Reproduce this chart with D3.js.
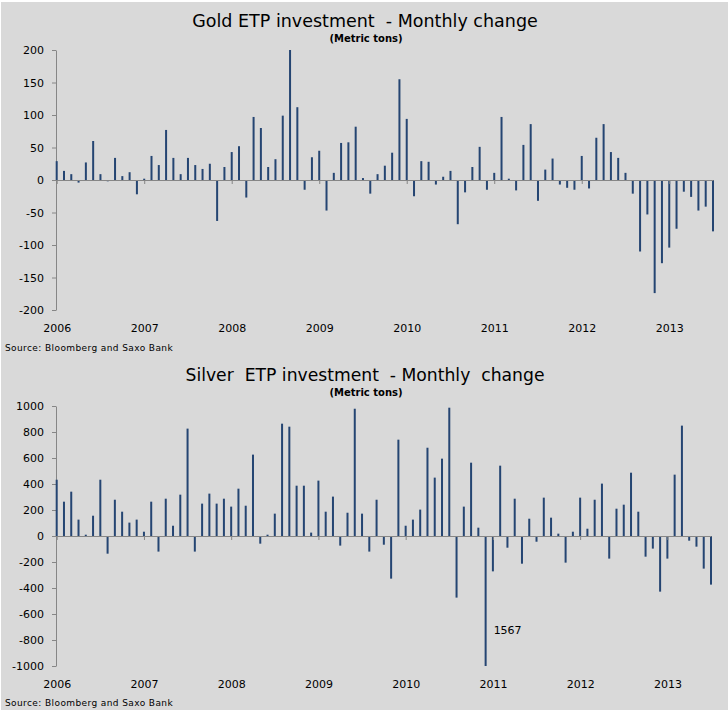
<!DOCTYPE html>
<html>
<head>
<meta charset="utf-8">
<script src="https://cdn.jsdelivr.net/npm/d3@7"></script>
<style>
  html, body { margin: 0; padding: 0; background: #ffffff; }
  svg { display: block; }
  text { font-family: "DejaVu Sans", Verdana, sans-serif; fill: #000; }
</style>
</head>
<body>
<svg id="chart" width="728" height="710"></svg>
<script>
// ---- Data (monthly, Jan 2006 .. Jul 2013) ----
const startYear = 2006;
const yearLabels = ["2006", "2007", "2008", "2009", "2010", "2011", "2012", "2013"];

const goldTitle = "Gold ETP investment  - Monthly change";
const silverTitle = "Silver  ETP investment  - Monthly  change";
const unitLabel = "(Metric tons)";
const sourceLabel = "Source: Bloomberg and Saxo Bank";

const goldValues = [
  29, 14, 9, -4, 27, 60, 9, -2, 34, 6, 12, -22,
  2, 37, 23, 77, 34, 9, 34, 23, 17, 25, -63, 20,
  43, 52, -27, 97, 80, 20, 32, 99, 200, 112, -15, 35,
  45, -47, 11, 57, 58, 82, 3, -21, 9, 22, 42, 155,
  94, -25, 29, 28, -7, 5, 14, -68, -19, 20, 51, -15,
  11, 97, 2, -16, 54, 86, -32, 16, 33, -7, -12, -15,
  37, -13, 65, 86, 43, 34, 11, -21, -110, -53, -174, -128,
  -104, -75, -18, -26, -47, -41, -79
];
const goldTicks = [-200, -150, -100, -50, 0, 50, 100, 150, 200];

const silverValues = [
  433, 264, 341, 126, 10, 156, 433, -136, 279, 187, 103, 126,
  33, 264, -120, 287, 79, 318, 826, -120, 249, 326, 249, 287,
  226, 364, 233, 626, -59, 10, 172, 864, 841, 387, 387, 26,
  426, 187, 303, -74, 179, 979, 172, -120, 279, -67, -328, 741,
  79, 126, 203, 679, 449, 595, 987, -474, 226, 564, 64, -1567,
  -272, 541, -90, 287, -213, 133, -44, 295, 141, 18, -205, 33,
  295, 56, 279, 403, -174, 210, 241, 487, 187, -159, -97, -428,
  -174, 472, 849, -36, -82, -251, -374
];
const silverTicks = [-1000, -800, -600, -400, -200, 0, 200, 400, 600, 800, 1000];
const silverNote = "1567";

// ---- Drawing ----
const svg = d3.select("#chart");
svg.append("rect").attr("x", 1).attr("y", 2).attr("width", 727).attr("height", 708).attr("fill", "#d9d9d9");

const barColor = "#254572";
const axisColor = "#868686";
const fmt = d => String(d);

function drawPanel(cfg) {
  const g = svg.append("g");
  const n = cfg.values.length;
  const x = d3.scaleLinear().domain([0, n - 1]).range([cfg.left + 0.7, cfg.right]);
  const y = d3.scaleLinear().domain(cfg.domain).range([cfg.bottom, cfg.top]);

  // Title & subtitle
  g.append("text").attr("x", 365).attr("y", cfg.titleY).attr("text-anchor", "middle")
    .style("font-size", cfg.titleSize).style("white-space", "pre").text(cfg.title);
  g.append("text").attr("x", 366).attr("y", cfg.subY).attr("text-anchor", "middle")
    .style("font-size", "10px").style("font-weight", "bold").text(unitLabel);

  // Y axis
  const yAxis = d3.axisLeft(y).tickValues(cfg.ticks).tickFormat(fmt).tickSize(4).tickPadding(8).tickSizeOuter(0);
  const ya = g.append("g").attr("transform", `translate(${cfg.left},0)`).call(yAxis);
  ya.selectAll("path, line").attr("stroke", axisColor);
  ya.selectAll("text").style("font-size", "11px").style("font-family", "DejaVu Sans, Verdana, sans-serif").attr("fill", "#000");

  // Bars
  const lo = cfg.domain[0], hi = cfg.domain[1];
  g.append("g").selectAll("rect").data(cfg.values).join("rect")
    .attr("x", (d, i) => x(i) - 1)
    .attr("width", 2)
    .attr("y", d => y(Math.min(hi, Math.max(0, d))))
    .attr("height", d => Math.abs(y(Math.max(lo, Math.min(hi, d))) - y(0)))
    .attr("fill", barColor);

  // Zero axis with year ticks
  const yearIdx = yearLabels.map((_, k) => k * 12);
  const xAxis = d3.axisBottom(x).tickValues(yearIdx).tickFormat("").tickSize(4).tickSizeOuter(0);
  const xa = g.append("g").attr("transform", `translate(0,${y(0)})`).call(xAxis);
  xa.select("path.domain").attr("d", `M${cfg.left},0.5H${cfg.right + 0.5}`);
  xa.selectAll("path, line").attr("stroke", axisColor);

  // Year labels at the bottom
  const xl = d3.axisBottom(x).tickValues(yearIdx).tickFormat((d, k) => yearLabels[k]).tickSize(0).tickPadding(0);
  const xlg = g.append("g").attr("transform", `translate(0,${cfg.labelY})`).call(xl);
  xlg.select("path.domain").remove();
  xlg.selectAll("text").attr("dy", null).attr("y", 0)
    .style("font-size", "11px").style("font-family", "DejaVu Sans, Verdana, sans-serif").attr("fill", "#000");

  // Source
  g.append("text").attr("x", 5).attr("y", cfg.sourceY).style("font-size", "9px")
    .style("letter-spacing", "0.4px").text(sourceLabel);

  return { x, y, g };
}

drawPanel({
  title: goldTitle, values: goldValues, ticks: goldTicks, domain: [-200, 200],
  left: 56, right: 713, top: 50, bottom: 310, titleSize: "17.5px",
  titleY: 27, subY: 41.5, labelY: 332, sourceY: 351
});

const sp = drawPanel({
  title: silverTitle, values: silverValues, ticks: silverTicks, domain: [-1000, 1000],
  left: 56, right: 711, top: 406, bottom: 666, titleSize: "17.2px",
  titleY: 381, subY: 395.5, labelY: 688, sourceY: 706
});

// Annotation for the clipped bar
const clipIdx = silverValues.indexOf(-1567);
sp.g.append("text").attr("x", sp.x(clipIdx) + 8).attr("y", 634)
  .style("font-size", "11px").text(silverNote);
</script>
</body>
</html>
